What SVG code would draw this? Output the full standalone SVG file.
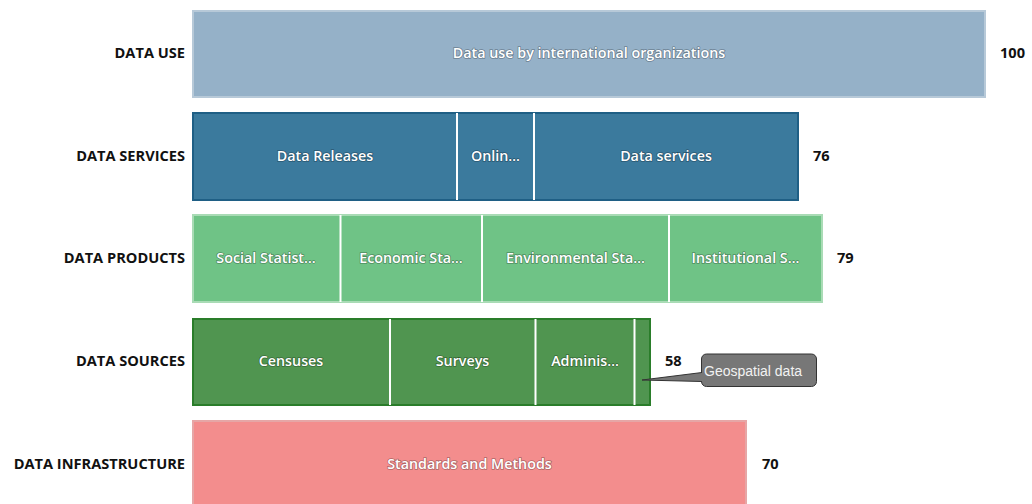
<svg xmlns="http://www.w3.org/2000/svg" width="1032" height="504" viewBox="0 0 1032 504">
<defs>
<style>
.lbl{font-family:"Open Sans","Liberation Sans",sans-serif;font-weight:bold;font-size:14.6px;fill:#111;text-anchor:end}
.val{font-family:"Open Sans","Liberation Sans",sans-serif;font-weight:bold;font-size:14.6px;fill:#111}
.in{font-family:"Open Sans","Liberation Sans",sans-serif;font-weight:600;font-size:14.3px;fill:#fff;text-anchor:middle;paint-order:stroke;stroke:rgba(0,0,0,0.3);stroke-width:1.6px}
.use{fill:#95b1c8;stroke:#b7c9d8;stroke-width:2}
.svc{fill:#3b7a9d;stroke:#1f5f85;stroke-width:2}
.prd{fill:#6fc386;stroke:#a9dbb5;stroke-width:2}
.src{fill:#509550;stroke:#2a7d2a;stroke-width:2}
.inf{fill:#f38d8d;stroke:#e6a6a6;stroke-width:2}
.sep{stroke:#fff;stroke-width:2}
.tip{font-family:"Liberation Sans",Arial,sans-serif;font-size:14px;fill:#f2f2f2}
</style>
</defs>
<g id="row-data-use">
<text class="lbl" x="185" y="58">DATA USE</text>
<rect class="use" x="193" y="11" width="792" height="86"/>
<text class="in" x="589" y="58">Data use by international organizations</text>
<text class="val" x="1000" y="58">100</text>
</g>
<g id="row-data-services">
<text class="lbl" x="185" y="161">DATA SERVICES</text>
<rect class="svc" x="193" y="113" width="605" height="87"/>
<line class="sep" x1="457" y1="113" x2="457" y2="200"/>
<line class="sep" x1="534" y1="113" x2="534" y2="200"/>
<text class="in" x="325" y="161">Data Releases</text>
<text class="in" x="495.5" y="161">Onlin…</text>
<text class="in" x="666" y="161">Data services</text>
<text class="val" x="813" y="161">76</text>
</g>
<g id="row-data-products">
<text class="lbl" x="185" y="263">DATA PRODUCTS</text>
<rect class="prd" x="193" y="215" width="629" height="87"/>
<line class="sep" x1="340.5" y1="215" x2="340.5" y2="302"/>
<line class="sep" x1="482" y1="215" x2="482" y2="302"/>
<line class="sep" x1="669" y1="215" x2="669" y2="302"/>
<text class="in" x="266" y="263">Social Statist…</text>
<text class="in" x="411" y="263">Economic Sta…</text>
<text class="in" x="575.5" y="263">Environmental Sta…</text>
<text class="in" x="745.5" y="263">Institutional S…</text>
<text class="val" x="837" y="263">79</text>
</g>
<g id="row-data-sources">
<text class="lbl" x="185" y="366">DATA SOURCES</text>
<rect class="src" x="193" y="319" width="457" height="86"/>
<line class="sep" x1="390" y1="319" x2="390" y2="405"/>
<line class="sep" x1="535.5" y1="319" x2="535.5" y2="405"/>
<line class="sep" x1="634.5" y1="319" x2="634.5" y2="405"/>
<text class="in" x="291" y="366">Censuses</text>
<text class="in" x="462.5" y="366">Surveys</text>
<text class="in" x="585" y="366">Adminis…</text>
<text class="val" x="665" y="366">58</text>
</g>
<g id="row-data-infrastructure">
<text class="lbl" x="185" y="469">DATA INFRASTRUCTURE</text>
<rect class="inf" x="193" y="421" width="553" height="90"/>
<text class="in" x="469.5" y="469">Standards and Methods</text>
<text class="val" x="762" y="469">70</text>
</g>
<g id="connectors">
<path d="M642,380 L702,372.5 L702,381.5 Z" fill="#777" stroke="#333" stroke-width="1" stroke-linejoin="round"/>
</g>
<g id="tooltip-geospatial">
<rect x="701.5" y="354" width="115" height="32.5" rx="5" fill="#777" stroke="#333" stroke-width="1"/>
<rect x="701" y="373" width="2" height="8" fill="#777"/>
<text class="tip" x="704" y="376">Geospatial data</text>
</g>
</svg>
